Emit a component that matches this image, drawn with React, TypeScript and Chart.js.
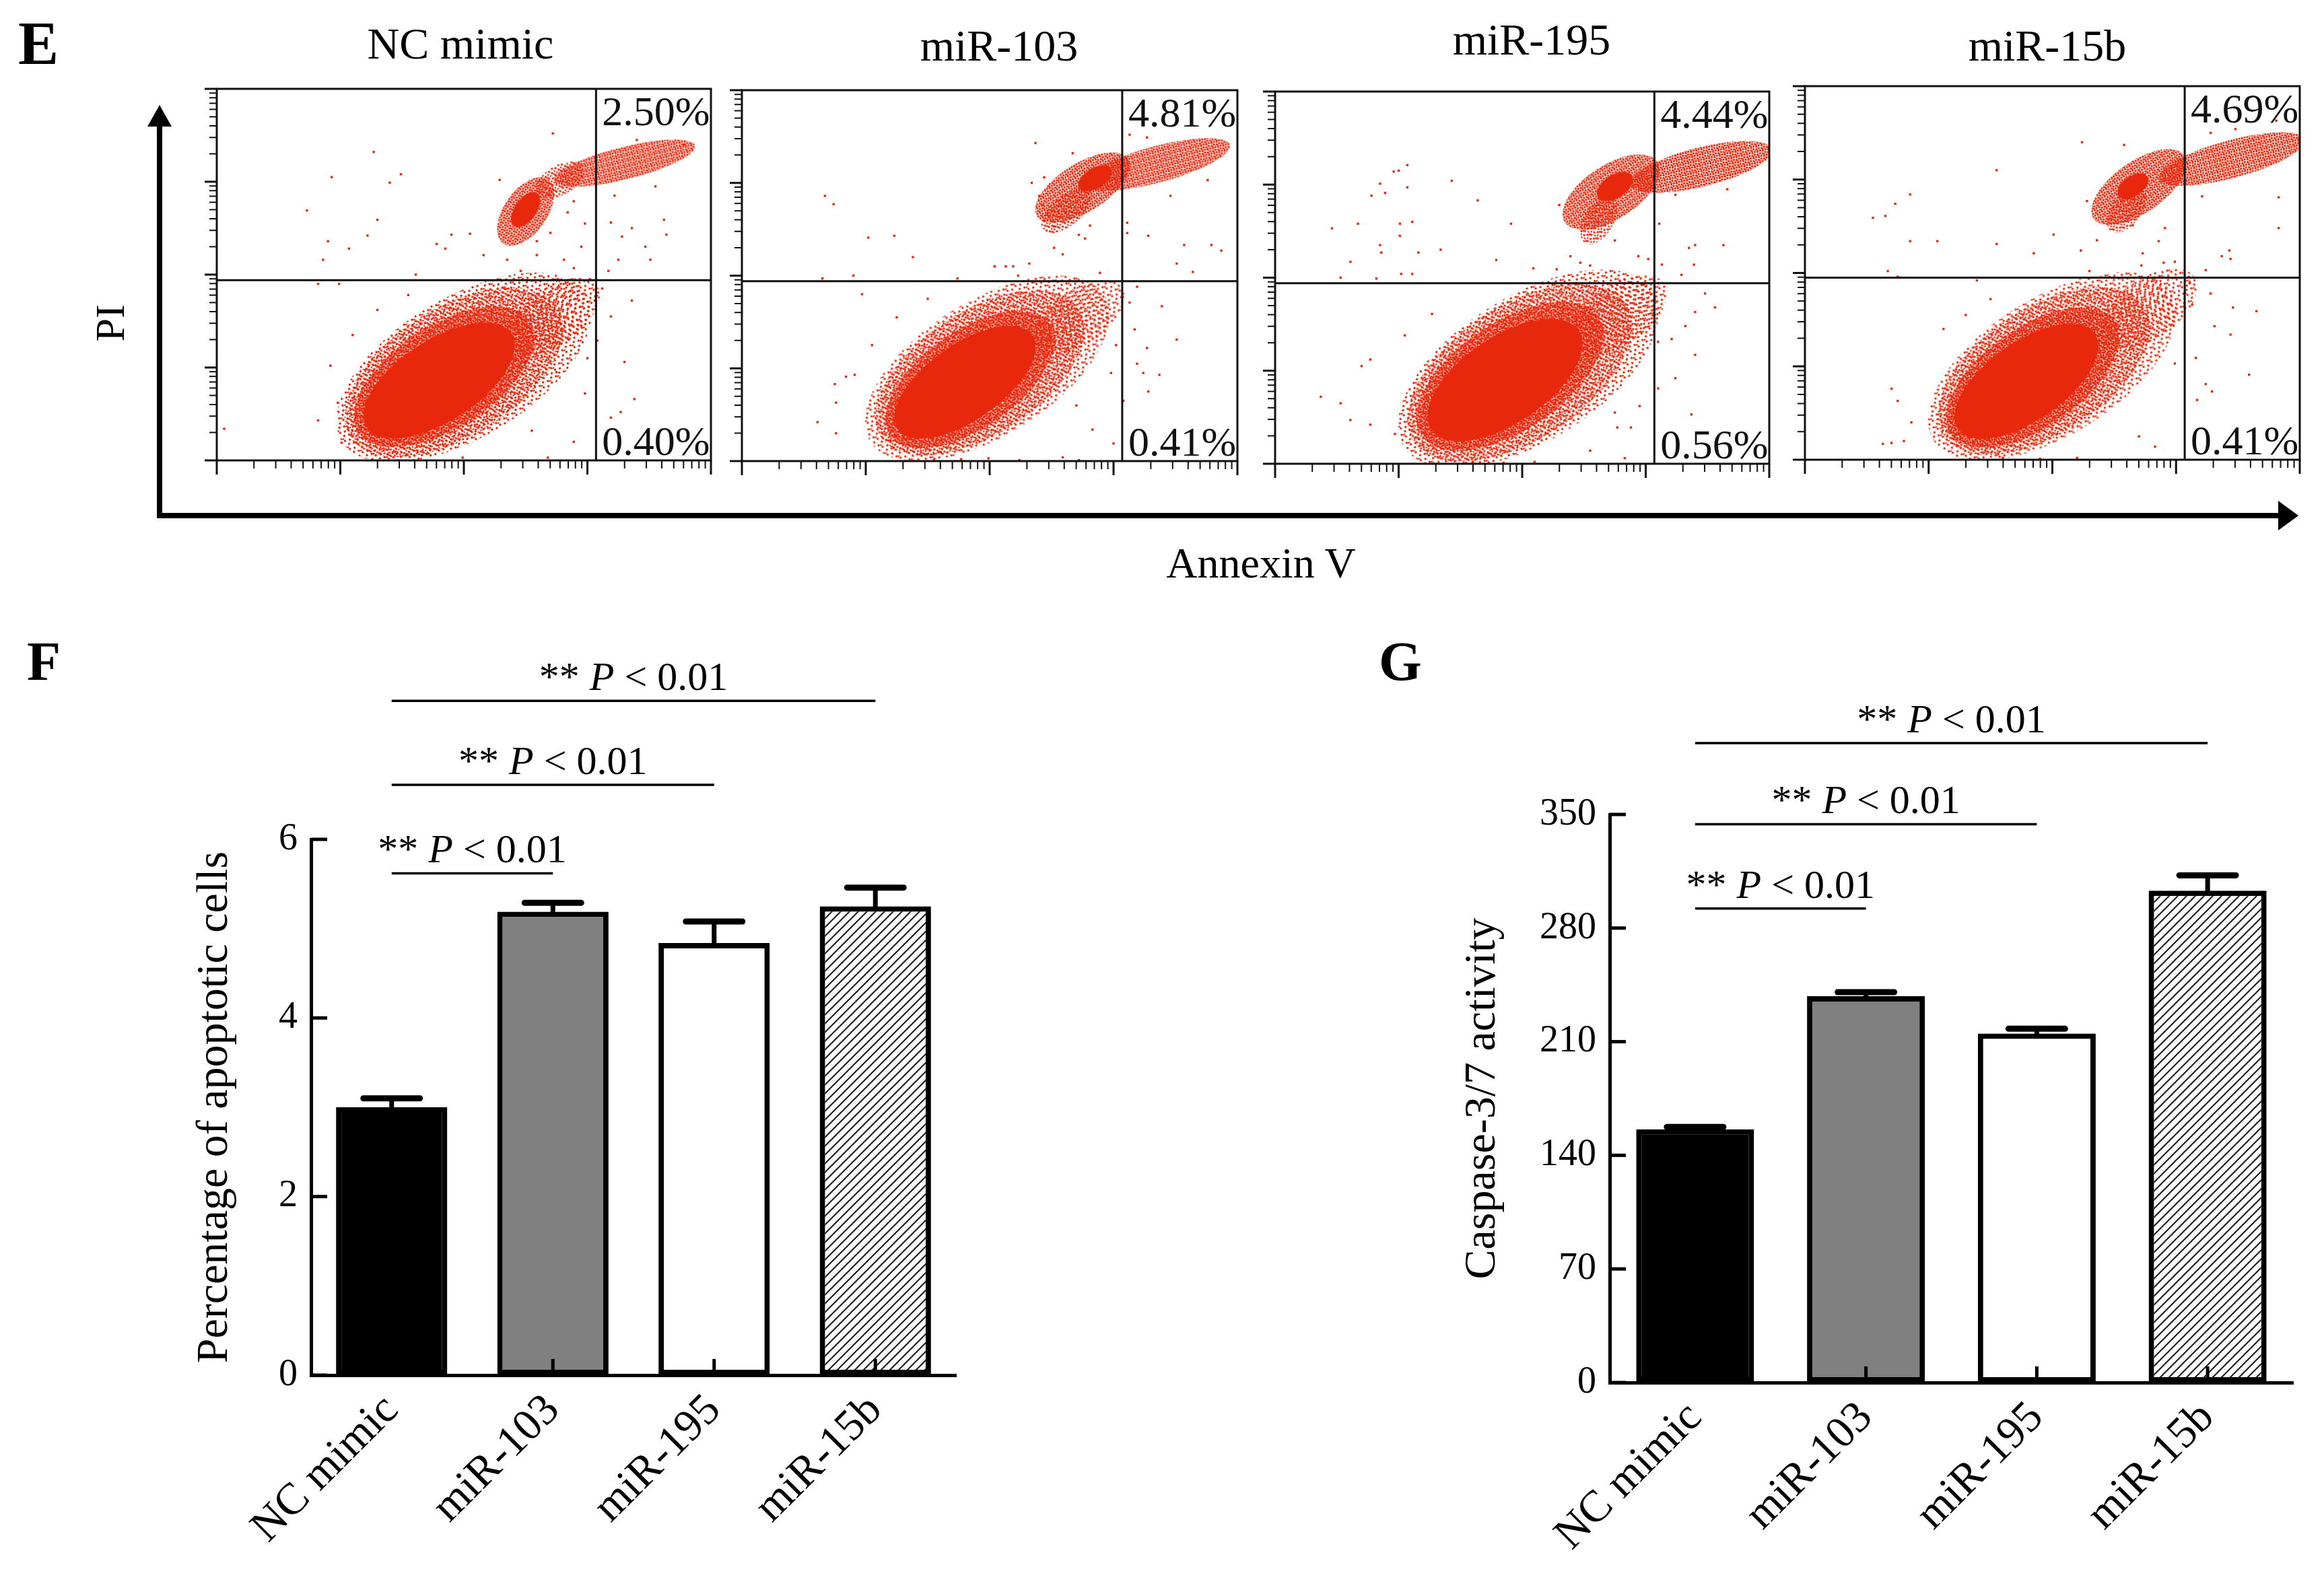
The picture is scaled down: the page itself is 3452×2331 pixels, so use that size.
import React, { useEffect, useRef } from "react";
import { Chart, registerables } from "chart.js";

Chart.register(...registerables);

type Pt = [number, number];

const groups = ["NC mimic", "miR-103", "miR-195", "miR-15b"];

// F: percentage of apoptotic cells
const apoptosisMean = [3.0, 5.19, 4.84, 5.25];
const apoptosisErr = [0.1, 0.1, 0.24, 0.21];
const apoptosisSig: Pt[] = [[1, 5.62], [2, 6.61], [3, 7.55]];

// G: caspase-3/7 activity
const caspaseMean = [156, 238, 215, 303];
const caspaseErr = [1.5, 2.5, 3, 9.5];
const caspaseSig: Pt[] = [[1, 292], [2, 344], [3, 394]];

// E: flow panels, positions in decades of a 4-decade log axis (Annexin V, PI)
const annexinGate = [3.07, 3.07, 3.07, 3.07];
const piGate = [1.94, 1.94, 1.94, 1.95];
const lateApoptotic = ["2.50%", "4.81%", "4.44%", "4.69%"];
const earlyApoptotic = ["0.40%", "0.41%", "0.56%", "0.41%"];

// cluster centres, one per panel
const liveCore: Pt[] = [[1.8, 0.86], [1.8, 0.85], [1.86, 0.9], [1.79, 0.84]];
const liveRing: Pt[] = [[1.84, 0.9], [1.84, 0.88], [1.9, 0.94], [1.84, 0.88]];
const liveHalo: Pt[] = [[1.92, 0.95], [1.92, 0.95], [1.98, 0.98], [1.93, 0.95]];
const liveFaint: Pt[] = [[2.0, 1.0], [1.98, 1.0], [2.05, 1.02], [2.0, 1.0]];
const liveFringe: Pt[] = [[2.72, 1.55], [2.72, 1.55], [2.78, 1.6], [2.78, 1.62]];
const lateCluster: Pt[] = [[2.5, 2.68], [2.75, 2.95], [2.72, 2.92], [2.7, 2.92]];
const lateKnot: Pt[] = [[2.5, 2.7], [2.85, 3.05], [2.75, 2.98], [2.65, 2.93]];
const lateStreak: Pt[] = [[3.3, 3.2], [3.35, 3.2], [3.45, 3.19], [3.45, 3.22]];
const lateTail: Pt[] = [[2.78, 3.02], [2.62, 2.7], [2.62, 2.62], [2.6, 2.68]];

const dots1: Pt[] = [
  [2.72, 3.52], [1.27, 3.32], [0.93, 3.05], [1.4, 2.99], [1.49, 3.08], [2.29, 3.02], [0.73, 2.69], [1.3, 2.59],
  [1.22, 2.42], [0.9, 2.36], [0.86, 2.16], [1.07, 2.28], [1.78, 2.33], [1.85, 2.28], [1.9, 2.43], [2.05, 2.44],
  [2.16, 2.21], [2.35, 2.16], [2.59, 2.21], [2.81, 2.16], [2.89, 2.07], [3.19, 2.56], [3.36, 2.5], [3.28, 2.41],
  [3.62, 2.59], [3.64, 2.43], [3.47, 2.3], [3.51, 2.16], [3.25, 2.16], [3.17, 2.04], [3.36, 1.72], [3.19, 1.55],
  [3.3, 1.06], [3.38, 0.66], [3.19, 0.46], [3.27, 0.52], [3.08, 1.29], [0.06, 0.34], [0.82, 0.43], [1.01, 0.19],
  [1.61, 2.0], [0.82, 1.9], [0.99, 1.9], [2.98, 0.72], [2.89, 0.2], [2.68, 0.03], [1.99, 0.03], [3.06, 1.72],
  [2.84, 2.67], [2.89, 2.79], [2.59, 2.36], [2.46, 2.04], [2.76, 1.95], [2.95, 2.3], [2.7, 2.45], [2.98, 2.55],
  [3.02, 1.95], [3.12, 1.85], [2.95, 1.45], [3.0, 1.1], [3.22, 2.85], [3.55, 2.95], [3.78, 3.4], [3.4, 3.45],
  [0.98, 0.62], [0.92, 1.02], [1.1, 1.35], [1.3, 1.62], [1.55, 1.78], [2.55, 0.32], [2.75, 0.95], [2.85, 1.3],
];
const dots2: Pt[] = [
  [2.37, 3.43], [2.67, 3.32], [0.67, 2.86], [0.74, 2.77], [1.02, 2.41], [1.23, 2.43], [1.38, 2.2], [2.04, 2.1],
  [2.13, 2.1], [2.19, 2.1], [2.32, 2.13], [2.34, 3.0], [2.44, 3.06], [2.4, 2.86], [2.43, 2.76], [2.52, 2.53],
  [2.52, 2.3], [2.59, 2.23], [2.72, 2.44], [2.77, 2.4], [2.81, 2.54], [3.11, 2.57], [3.11, 2.46], [3.28, 2.43],
  [3.57, 2.33], [3.79, 2.33], [3.87, 2.27], [3.51, 2.13], [3.64, 2.04], [3.46, 2.86], [3.76, 3.03], [3.27, 3.49],
  [3.13, 3.52], [0.65, 1.97], [0.9, 2.0], [1.74, 1.97], [2.23, 2.0], [0.97, 1.8], [2.89, 2.03], [3.19, 1.88],
  [3.13, 1.71], [3.39, 1.67], [3.17, 1.42], [3.27, 1.22], [3.51, 1.31], [3.19, 1.05], [3.24, 0.95], [3.37, 0.93],
  [3.28, 0.75], [3.08, 0.65], [0.75, 0.83], [0.84, 0.91], [0.91, 0.93], [0.76, 0.63], [0.61, 0.42], [0.76, 0.3],
  [1.2, 0.22], [2.83, 0.34], [3.0, 0.19], [2.59, 0.04], [2.72, 0.01], [1.55, 0.01], [1.77, 0.02], [1.99, 0.03],
  [2.24, 0.01], [2.95, 1.55], [3.02, 1.25], [2.98, 0.95], [1.05, 1.25], [1.25, 1.55], [1.5, 1.75], [2.7, 0.6],
];
const dots3: Pt[] = [
  [1.07, 3.21], [1.0, 3.15], [0.96, 3.14], [0.85, 3.01], [1.07, 2.97], [1.43, 3.04], [0.89, 2.91], [0.78, 2.88],
  [1.64, 2.83], [0.46, 2.53], [0.67, 2.58], [1.01, 2.58], [1.11, 2.6], [1.01, 2.45], [1.91, 2.58], [0.85, 2.35],
  [0.86, 2.27], [1.16, 2.27], [1.34, 2.3], [0.61, 2.17], [1.79, 2.19], [0.53, 2.0], [0.82, 1.99], [1.02, 2.04],
  [1.11, 2.04], [2.09, 2.1], [2.28, 2.09], [2.3, 2.78], [2.39, 2.23], [2.47, 2.16], [2.55, 2.13], [2.75, 2.4],
  [2.94, 2.23], [3.02, 2.2], [3.13, 2.14], [3.35, 2.32], [3.4, 2.35], [3.63, 2.35], [3.39, 2.14], [3.29, 2.03],
  [3.66, 2.95], [3.24, 2.89], [3.11, 2.58], [3.48, 1.83], [3.56, 1.68], [3.4, 1.63], [3.32, 1.48], [3.21, 1.34],
  [3.4, 1.17], [3.24, 0.92], [3.1, 0.81], [3.37, 0.53], [3.1, 1.31], [2.95, 0.62], [2.75, 0.55], [2.77, 0.39],
  [2.88, 0.39], [2.55, 0.14], [2.83, 0.06], [0.37, 0.72], [0.53, 0.65], [0.61, 0.47], [0.77, 0.42], [0.7, 1.05],
  [0.77, 1.12], [1.05, 1.38], [1.27, 1.61], [0.97, 0.32], [1.6, 0.02], [1.85, 0.01], [2.1, 0.02],
];
const dots4: Pt[] = [
  [2.24, 3.4], [2.58, 3.37], [1.55, 3.1], [0.85, 2.84], [0.73, 2.74], [0.55, 2.59], [0.65, 2.61], [0.85, 2.34],
  [1.07, 2.34], [1.55, 2.31], [2.01, 2.41], [1.85, 2.21], [2.23, 2.24], [2.36, 2.35], [2.28, 2.77], [2.61, 2.61],
  [2.65, 2.51], [2.73, 2.21], [2.86, 2.34], [2.91, 2.48], [2.99, 2.12], [2.9, 2.11], [2.72, 2.08], [3.21, 2.82],
  [3.83, 2.81], [3.83, 2.48], [3.43, 2.24], [3.37, 2.18], [3.44, 2.15], [3.24, 2.03], [3.28, 3.5], [3.48, 3.54],
  [3.81, 3.63], [0.67, 2.02], [0.75, 1.96], [1.39, 1.92], [2.3, 2.02], [3.11, 1.89], [3.28, 1.78], [3.13, 1.66],
  [3.46, 1.63], [3.65, 1.59], [3.31, 1.43], [3.44, 1.34], [3.16, 1.09], [3.59, 0.91], [3.24, 0.81], [3.29, 0.73],
  [3.17, 0.64], [2.99, 1.03], [0.7, 0.76], [0.75, 0.63], [0.86, 0.4], [0.63, 0.17], [0.7, 0.18], [0.8, 0.2],
  [1.3, 1.55], [1.12, 1.4], [2.83, 0.14], [2.7, 0.25], [1.6, 0.02], [1.9, 0.01], [2.2, 0.02], [1.5, 1.72],
];
const flowDots = [dots1, dots2, dots3, dots4];

// ellipse sizes (semi-axes in px) and tilt (deg) of each cluster, per panel
type Shape = [number, number, number];
const flowShapes: Record<string, Shape>[] = [
  { faint: [212, 104, -31], halo: [182, 96, -32], ring: [152, 76, -33], core: [128, 60, -33], fringe: [80, 42, -35], late: [58, 32, -55], tail: [40, 22, -30], knot: [30, 16, -55], streak: [108, 24, -14] },
  { faint: [205, 100, -32], halo: [175, 92, -33], ring: [145, 72, -35], core: [122, 56, -35], fringe: [78, 40, -35], late: [80, 36, -32], tail: [45, 22, -40], knot: [28, 15, -32], streak: [112, 27, -15] },
  { faint: [218, 108, -32], halo: [188, 100, -33], ring: [158, 80, -34], core: [132, 64, -34], fringe: [82, 44, -35], late: [82, 40, -33], tail: [40, 22, -60], knot: [30, 17, -33], streak: [108, 29, -14] },
  { faint: [208, 102, -32], halo: [178, 94, -33], ring: [148, 74, -35], core: [124, 58, -35], fringe: [82, 44, -35], late: [82, 38, -35], tail: [40, 22, -55], knot: [26, 15, -35], streak: [112, 28, -15] },
];

const SERIF = "'Liberation Serif', 'Times New Roman', serif";
const RED = "#e8280c";

const flowBoxes = [
  { left: 322, top: 132, right: 1056, bottom: 684 },
  { left: 1102, top: 134, right: 1838, bottom: 685 },
  { left: 1894, top: 136, right: 2628, bottom: 689 },
  { left: 2681, top: 128, right: 3416, bottom: 683 },
];

const toXY = (pts: Pt[]) => pts.map(([x, y]) => ({ x, y }));

function speckleTile(size: number, spots: Pt[]) {
  const tile = document.createElement("canvas");
  tile.width = size;
  tile.height = size;
  const g = tile.getContext("2d")!;
  g.fillStyle = RED;
  spots.forEach(([x, y]) => g.fillRect(x, y, 3, 3));
  return tile;
}

const tiles: Record<string, Pt[] | null> = {
  solid: null,
  dense: [[0, 0], [4, 1], [1, 4], [5, 5], [6, 3]],
  medium: [[1, 2], [7, 0], [4, 6], [9, 5], [0, 9], [6, 9]],
  sparse: [[1, 1], [8, 3], [4, 8], [11, 10], [0, 12]],
};
const tileSize: Record<string, number> = { solid: 0, dense: 8, medium: 11, sparse: 14 };

// an ellipse drawn into a small canvas, used as a point style
function ellipseSprite([rx, ry, deg]: Shape, fill: string) {
  const r = Math.ceil(Math.max(rx, ry)) + 2;
  const c = document.createElement("canvas");
  c.width = 2 * r;
  c.height = 2 * r;
  const g = c.getContext("2d")!;
  const spots = tiles[fill];
  g.fillStyle = spots ? g.createPattern(speckleTile(tileSize[fill], spots), "repeat")! : RED;
  g.translate(r, r);
  g.rotate((deg * Math.PI) / 180);
  g.beginPath();
  g.ellipse(0, 0, rx, ry, 0, 0, Math.PI * 2);
  g.fill();
  return c;
}

function FlowPanel({ index }: { index: number }) {
  const ref = useRef<HTMLCanvasElement | null>(null);
  const box = flowBoxes[index];
  const w = box.right - box.left + 42;
  const h = box.bottom - box.top + 42;

  useEffect(() => {
    const ctx = ref.current?.getContext("2d");
    if (!ctx) return;
    const shapes = flowShapes[index];

    const cluster = (centre: Pt, shape: Shape, fill: string, order: number) => ({
      data: toXY([centre]),
      pointRadius: 1,
      pointHoverRadius: 1,
      pointStyle: ellipseSprite(shape, fill),
      order,
      clip: 0,
    });

    const frame = {
      id: "flowFrame",
      afterDraw(chart: any) {
        const { ctx: c, chartArea: a, scales } = chart;
        const x = scales.x;
        const y = scales.y;
        c.save();
        c.strokeStyle = "#111";
        c.lineWidth = 3;
        c.strokeRect(a.left, a.top, a.right - a.left, a.bottom - a.top);
        const gx = x.getPixelForValue(annexinGate[index]);
        const gy = y.getPixelForValue(piGate[index]);
        c.beginPath();
        c.moveTo(gx, a.top);
        c.lineTo(gx, a.bottom);
        c.moveTo(a.left, gy);
        c.lineTo(a.right, gy);
        c.stroke();
        // log decade ticks
        for (let k = 0; k <= 4; k++) {
          for (let m = 1; m <= 9; m++) {
            if (k === 4 && m > 1) break;
            const v = k + Math.log10(m);
            const major = m === 1;
            c.lineWidth = major ? 3 : 2;
            const px = x.getPixelForValue(v);
            const py = y.getPixelForValue(v);
            c.beginPath();
            c.moveTo(px, a.bottom);
            c.lineTo(px, a.bottom + (major ? 21 : 12));
            c.moveTo(a.left, py);
            c.lineTo(a.left - (major ? 18 : 11), py);
            c.stroke();
          }
        }
        c.fillStyle = "#111";
        c.font = `62px ${SERIF}`;
        c.textAlign = "left";
        c.textBaseline = "alphabetic";
        c.fillText(lateApoptotic[index], gx + 9, a.top + 54);
        c.fillText(earlyApoptotic[index], gx + 9, a.bottom - 8);
        c.restore();
      },
    };

    const chart = new Chart(ctx, {
      type: "scatter",
      data: {
        datasets: [
          {
            data: toXY(flowDots[index]),
            pointRadius: 2.4,
            pointHoverRadius: 2.4,
            pointStyle: "rect",
            pointBackgroundColor: RED,
            pointBorderWidth: 0,
            order: 0,
            clip: 0,
          },
          cluster(lateKnot[index], shapes.knot, "solid", 1),
          cluster(liveCore[index], shapes.core, "solid", 2),
          cluster(lateCluster[index], shapes.late, "dense", 3),
          cluster(lateStreak[index], shapes.streak, "dense", 4),
          cluster(liveRing[index], shapes.ring, "dense", 5),
          cluster(lateTail[index], shapes.tail, "medium", 6),
          cluster(liveHalo[index], shapes.halo, "medium", 7),
          cluster(liveFringe[index], shapes.fringe, "sparse", 8),
          cluster(liveFaint[index], shapes.faint, "sparse", 9),
        ] as any,
      },
      options: {
        responsive: false,
        animation: false,
        events: [],
        layout: { autoPadding: false, padding: { left: 32, top: 10, right: 10, bottom: 32 } },
        plugins: { legend: { display: false }, tooltip: { enabled: false } },
        scales: {
          x: { type: "linear", min: 0, max: 4, display: false },
          y: { type: "linear", min: 0, max: 4, display: false },
        },
      },
      plugins: [frame],
    });
    return () => chart.destroy();
  }, [index]);

  return (
    <canvas
      ref={ref}
      width={w}
      height={h}
      style={{ position: "absolute", left: box.left - 32, top: box.top - 10, width: w, height: h }}
    />
  );
}

interface BarProps {
  means: number[];
  errs: number[];
  sig: Pt[];
  yMax: number;
  step: number;
  title: string;
  left: number;
  top: number;
  width: number;
  height: number;
  padLeft: number;
  yWidth: number;
  padTop: number;
  xHeight: number;
  padRight: number;
}

function BarPanel(p: BarProps) {
  const ref = useRef<HTMLCanvasElement | null>(null);

  useEffect(() => {
    const ctx = ref.current?.getContext("2d");
    if (!ctx) return;
    const tile = document.createElement("canvas");
    tile.width = 13;
    tile.height = 13;
    const t = tile.getContext("2d")!;
    t.fillStyle = "#fff";
    t.fillRect(0, 0, 13, 13);
    t.strokeStyle = "#222";
    t.lineWidth = 2.2;
    t.beginPath();
    t.moveTo(-1, 14);
    t.lineTo(14, -1);
    t.moveTo(-4, 4);
    t.lineTo(4, -4);
    t.moveTo(9, 17);
    t.lineTo(17, 9);
    t.stroke();
    const hatch = ctx.createPattern(tile, "repeat")!;

    const marks = {
      id: "marks",
      afterDatasetsDraw(chart: any) {
        const { ctx: c, chartArea: a, scales } = chart;
        const x = scales.x;
        const y = scales.y;
        c.save();
        c.strokeStyle = "#000";
        chart.getDatasetMeta(0).data.forEach((bar: any, i: number) => {
          const top = y.getPixelForValue(p.means[i] + p.errs[i]);
          c.lineWidth = 7;
          c.lineCap = "butt";
          c.beginPath();
          c.moveTo(bar.x, bar.y + 4);
          c.lineTo(bar.x, top);
          c.stroke();
          c.lineWidth = 9;
          c.lineCap = "round";
          c.beginPath();
          c.moveTo(bar.x - 42, top);
          c.lineTo(bar.x + 42, top);
          c.stroke();
        });
        c.lineCap = "butt";
        c.lineWidth = 5;
        groups.forEach((_, i) => {
          const px = x.getPixelForValue(i);
          c.beginPath();
          c.moveTo(px, a.bottom);
          c.lineTo(px, a.bottom - 24);
          c.stroke();
        });
        y.ticks.forEach((tk: any) => {
          const py = y.getPixelForValue(tk.value);
          c.beginPath();
          c.moveTo(a.left, py);
          c.lineTo(a.left + 24, py);
          c.stroke();
        });
        c.restore();
      },
      afterDraw(chart: any) {
        const { ctx: c, scales } = chart;
        const x = scales.x;
        const y = scales.y;
        c.save();
        c.strokeStyle = "#000";
        c.fillStyle = "#000";
        c.lineWidth = 3.5;
        c.textBaseline = "alphabetic";
        c.textAlign = "left";
        p.sig.forEach(([to, v]) => {
          const x1 = x.getPixelForValue(0);
          const x2 = x.getPixelForValue(to);
          const py = y.getPixelForValue(v);
          c.beginPath();
          c.moveTo(x1, py);
          c.lineTo(x2, py);
          c.stroke();
          const parts: [string, string][] = [
            ["** ", `60px ${SERIF}`],
            ["P", `italic 60px ${SERIF}`],
            [" < 0.01", `60px ${SERIF}`],
          ];
          let total = 0;
          parts.forEach(([s, f]) => {
            c.font = f;
            total += c.measureText(s).width;
          });
          let cx = (x1 + x2) / 2 - total / 2;
          parts.forEach(([s, f]) => {
            c.font = f;
            c.fillText(s, cx, py - 16);
            cx += c.measureText(s).width;
          });
        });
        c.restore();
      },
    };

    const chart = new Chart(ctx, {
      type: "bar",
      data: {
        labels: groups,
        datasets: [
          {
            data: p.means,
            backgroundColor: ["#000", "#808080", "#fff", hatch] as any,
            borderColor: "#000",
            borderWidth: 8,
            borderSkipped: false,
            barPercentage: 0.69,
            categoryPercentage: 1,
          },
        ],
      },
      options: {
        responsive: false,
        animation: false,
        events: [],
        layout: { padding: { left: p.padLeft, top: p.padTop, right: p.padRight, bottom: 0 } },
        plugins: { legend: { display: false }, tooltip: { enabled: false } },
        scales: {
          x: {
            grid: { display: false, drawTicks: false },
            border: { display: true, width: 5, color: "#000" },
            ticks: {
              color: "#000",
              font: { family: SERIF, size: 66 },
              minRotation: 45,
              maxRotation: 45,
              autoSkip: false,
              padding: 14,
            },
            afterFit: (s: any) => {
              s.height = p.xHeight;
            },
          },
          y: {
            min: 0,
            max: p.yMax,
            grid: { display: false, drawTicks: false },
            border: { display: true, width: 5, color: "#000" },
            ticks: { stepSize: p.step, color: "#000", font: { family: SERIF, size: 56 }, padding: 20 },
            title: { display: true, text: p.title, color: "#000", font: { family: SERIF, size: 66 }, padding: 0 },
            afterFit: (s: any) => {
              s.width = p.yWidth;
            },
          },
        },
      },
      plugins: [marks],
    });
    return () => chart.destroy();
  }, [p]);

  return (
    <canvas
      ref={ref}
      width={p.width}
      height={p.height}
      style={{ position: "absolute", left: p.left, top: p.top, width: p.width, height: p.height }}
    />
  );
}

const titleBaselines = [87, 90, 81, 90];
const titleCenters = [684, 1484, 2275, 3041];

const fProps: BarProps = {
  means: apoptosisMean,
  errs: apoptosisErr,
  sig: apoptosisSig,
  yMax: 6,
  step: 2,
  title: "Percentage of apoptotic cells",
  left: 0,
  top: 900,
  width: 1450,
  height: 1431,
  padLeft: 280,
  yWidth: 182,
  padTop: 347,
  xHeight: 288,
  padRight: 30,
};

const gProps: BarProps = {
  means: caspaseMean,
  errs: caspaseErr,
  sig: caspaseSig,
  yMax: 350,
  step: 70,
  title: "Caspase-3/7 activity",
  left: 1950,
  top: 900,
  width: 1502,
  height: 1431,
  padLeft: 213,
  yWidth: 228,
  padTop: 310,
  xHeight: 277,
  padRight: 46,
};

export default function App() {
  return (
    <div style={{ position: "absolute", left: 0, top: 0, width: 3452, height: 2331, background: "#fff", overflow: "hidden" }}>
      {groups.map((_, i) => (
        <FlowPanel key={i} index={i} />
      ))}
      <BarPanel {...fProps} />
      <BarPanel {...gProps} />
      <svg
        width={3452}
        height={2331}
        style={{ position: "absolute", left: 0, top: 0, pointerEvents: "none" }}
        fontFamily={SERIF}
      >
        <text x={27} y={95} fontSize={90} fontWeight="bold">E</text>
        <text x={40} y={1010} fontSize={82} fontWeight="bold">F</text>
        <text x={2048} y={1010} fontSize={82} fontWeight="bold">G</text>
        {groups.map((g, i) => (
          <text key={g} x={titleCenters[i]} y={titleBaselines[i]} fontSize={66} textAnchor="middle">
            {g}
          </text>
        ))}
        <text transform="translate(184,480) rotate(-90)" fontSize={62} textAnchor="middle">PI</text>
        <text x={1873} y={858} fontSize={64} textAnchor="middle">Annexin V</text>
        <line x1={237} y1={770} x2={237} y2={182} stroke="#000" strokeWidth={8} />
        <polygon points="237,156 219,188 255,188" fill="#000" />
        <line x1={233} y1={766} x2={3388} y2={766} stroke="#000" strokeWidth={8} />
        <polygon points="3414,766 3384,744 3384,788" fill="#000" />
      </svg>
    </div>
  );
}
